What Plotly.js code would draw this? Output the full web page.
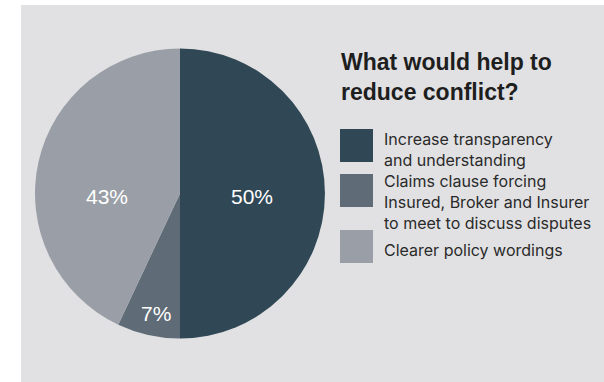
<!DOCTYPE html>
<html>
<head>
<meta charset="utf-8">
<script src="https://cdn.plot.ly/plotly-3.0.1.min.js"></script>
<style>html,body{margin:0;padding:0;background:#fff;}#chart{width:604px;height:382px;}</style>
</head>
<body>
<div id="chart"></div>
<script>
// Data
const categories = [
  "Increase transparency<br>and understanding",
  "Claims clause forcing<br>Insured, Broker and Insurer<br>to meet to discuss disputes",
  "Clearer policy wordings"
];
const values = [50, 7, 43];
const colors = ["#304855", "#5f6b76", "#9a9fa7"];
const chartTitle = "What would help to<br>reduce conflict?";

const W = 604, H = 382;
const px = x => x / W;
const py = y => 1 - y / H;

const trace = {
  type: "pie",
  labels: categories,
  values: values,
  sort: false,
  direction: "clockwise",
  rotation: 0,
  marker: {colors: colors, line: {width: 0}},
  textinfo: "none",
  hoverinfo: "none",
  showlegend: false,
  domain: {x: [px(35), px(325)], y: [py(339), py(48)]}
};

const shapes = [
  {type: "rect", xref: "paper", yref: "paper", x0: px(21), x1: 1, y0: 0, y1: py(5),
   fillcolor: "#e1e1e3", line: {width: 0}, layer: "below"}
];
const annotations = [];

// Percentage labels (text from values)
const labelPos = [[252, 197], [156, 313], [107, 197]];
values.forEach((v, i) => {
  annotations.push({xref: "paper", yref: "paper", x: px(labelPos[i][0]), y: py(labelPos[i][1]),
    xanchor: "center", yanchor: "middle", showarrow: false, text: v + "%",
    font: {family: "Liberation Sans, Arial, sans-serif", size: 21, color: "#ffffff"}});
});

// Legend built from categories/colors
const legendTops = [129, 174, 230];
const legendTextTops = [126.5, 169, 237.5];
categories.forEach((c, i) => {
  const top = legendTops[i];
  shapes.push({type: "rect", xref: "paper", yref: "paper",
    x0: px(340), x1: px(373), y0: py(top + 33), y1: py(top),
    fillcolor: colors[i], line: {width: 0}});
  annotations.push({xref: "paper", yref: "paper", x: px(382), y: py(legendTextTops[i]),
    xanchor: "left", yanchor: "top", align: "left", showarrow: false,
    text: c, font: {family: "Inter, Liberation Sans, Arial, sans-serif", size: 16, color: "#2a2a2a"}});
});

const layout = {
  width: W, height: H,
  margin: {l: 0, r: 0, t: 0, b: 0},
  paper_bgcolor: "#ffffff",
  title: {
    text: chartTitle,
    x: px(341), xanchor: "left", xref: "paper",
    y: py(70), yanchor: "top", yref: "paper",
    font: {family: "Liberation Sans, Arial, sans-serif", size: 23, color: "#1e1e1e", weight: "bold"}
  },
  shapes: shapes,
  annotations: annotations
};

Plotly.newPlot("chart", [trace], layout, {displayModeBar: false, staticPlot: true});
</script>
</body>
</html>
